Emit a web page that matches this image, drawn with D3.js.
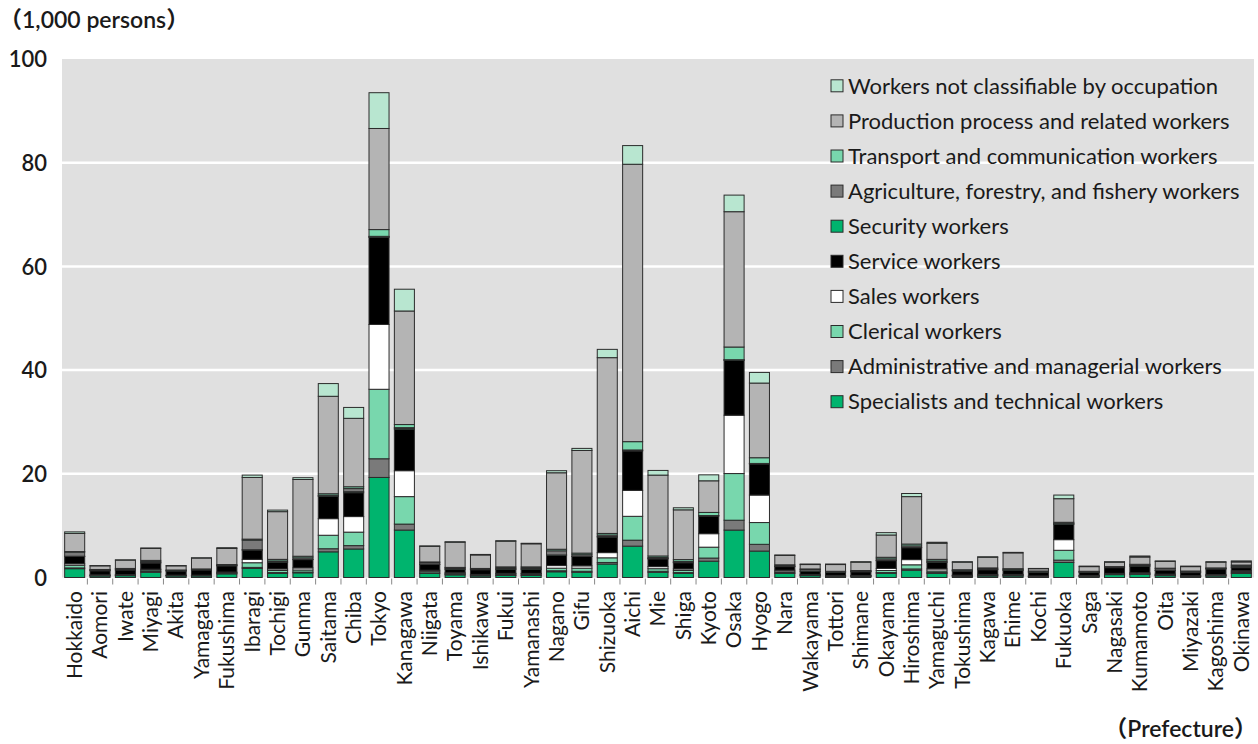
<!DOCTYPE html>
<html>
<head>
<meta charset="utf-8">
<script src="https://cdn.jsdelivr.net/npm/d3@7"></script>
<style>
  body { margin: 0; background: #fff; }
  svg { display: block; }
  text { font-family: Lato, "Noto Sans", "Noto Sans CJK JP", sans-serif; fill: #1a1a1a; }
</style>
</head>
<body>
<svg id="chart" width="1258" height="744"></svg>
<script>
// Prefectures in the order they appear along the x axis
const prefectures = ["Hokkaido","Aomori","Iwate","Miyagi","Akita","Yamagata","Fukushima","Ibaragi","Tochigi","Gunma",
  "Saitama","Chiba","Tokyo","Kanagawa","Niigata","Toyama","Ishikawa","Fukui","Yamanashi","Nagano","Gifu","Shizuoka",
  "Aichi","Mie","Shiga","Kyoto","Osaka","Hyogo","Nara","Wakayama","Tottori","Shimane","Okayama","Hiroshima","Yamaguchi",
  "Tokushima","Kagawa","Ehime","Kochi","Fukuoka","Saga","Nagasaki","Kumamoto","Oita","Miyazaki","Kagoshima","Okinawa"];

// Occupation groups, bottom of the stack first
const occupations = [
  "Specialists and technical workers",
  "Administrative and managerial workers",
  "Clerical workers",
  "Sales workers",
  "Service workers",
  "Security workers",
  "Agriculture, forestry, and fishery workers",
  "Transport and communication workers",
  "Production process and related workers",
  "Workers not classifiable by occupation"
];

// Workers per prefecture (1,000 persons), one array per occupation group
const specialists    = [1.7,0.3,0.35,1.0,0.3,0.3,0.7,1.75,0.8,0.9,4.95,5.5,19.3,9.15,0.8,0.5,0.3,0.4,0.4,1.1,1.0,2.6,6.05,1.0,0.8,3.15,9.15,5.1,0.8,0.35,0.2,0.2,0.8,1.4,0.8,0.25,0.3,0.3,0.15,2.9,0.2,0.55,0.6,0.35,0.2,0.3,0.8];
const administrative = [0.15,0.05,0.05,0.15,0.05,0.05,0.1,0.2,0.15,0.15,0.6,0.65,3.6,1.15,0.1,0.1,0.05,0.1,0.1,0.2,0.2,0.3,1.15,0.2,0.15,0.6,1.9,1.3,0.1,0.05,0.05,0.05,0.15,0.25,0.15,0.05,0.05,0.05,0.05,0.45,0.05,0.05,0.05,0.05,0.05,0.05,0.1];
const clerical       = [0.5,0.1,0.1,0.3,0.05,0.05,0.15,0.9,0.4,0.4,2.6,2.6,13.4,5.3,0.3,0.2,0.15,0.2,0.2,0.5,0.6,0.9,4.6,0.5,0.4,2.1,9.0,4.2,0.2,0.1,0.1,0.1,0.4,0.8,0.3,0.1,0.15,0.15,0.05,1.9,0.1,0.1,0.15,0.15,0.05,0.1,0.2];
const sales          = [0.3,0.05,0.05,0.15,0.05,0.05,0.1,0.65,0.3,0.4,3.2,3.0,12.5,5.0,0.2,0.1,0.1,0.1,0.1,0.5,0.45,1.0,5.0,0.4,0.3,2.6,11.25,5.3,0.3,0.1,0.05,0.05,0.4,1.0,0.4,0.05,0.1,0.1,0.05,2.05,0.05,0.1,0.1,0.1,0.05,0.1,0.2];
const service        = [1.4,0.8,0.9,1.2,0.8,1.0,1.2,1.8,1.3,1.6,4.3,4.6,16.8,8.0,1.1,0.7,0.9,0.8,0.8,2.0,1.8,3.0,7.6,1.5,1.2,3.4,10.6,6.0,0.7,0.6,0.6,0.7,1.5,2.3,1.3,0.8,0.9,0.8,0.7,2.95,0.6,1.1,1.3,0.7,0.6,1.1,0.6];
const security       = [0.05,0.05,0.05,0.1,0.05,0.05,0.05,0.05,0.05,0.05,0.1,0.2,0.1,0.2,0.05,0.05,0.05,0.05,0.05,0.05,0.05,0.1,0.1,0.05,0.05,0.05,0.05,0.05,0.05,0.05,0.05,0.05,0.05,0.05,0.05,0.05,0.05,0.05,0.05,0.1,0.05,0.05,0.05,0.05,0.05,0.05,0.1];
const agriculture    = [0.8,0.15,0.2,0.2,0.1,0.1,0.1,1.85,0.2,0.3,0.1,0.6,0.1,0.1,0.3,0.2,0.1,0.2,0.2,0.8,0.3,0.3,0.1,0.2,0.2,0.05,0.05,0.05,0.1,0.3,0.1,0.1,0.3,0.3,0.2,0.1,0.15,0.15,0.15,0.1,0.1,0.1,0.2,0.3,0.2,0.1,0.2];
const transport      = [0.1,0.05,0.05,0.2,0.05,0.05,0.1,0.2,0.3,0.3,0.3,0.35,1.3,0.6,0.15,0.1,0.1,0.2,0.2,0.3,0.3,0.3,1.6,0.3,0.35,0.6,2.45,1.1,0.2,0.1,0.05,0.1,0.3,0.35,0.3,0.1,0.15,0.1,0.05,0.2,0.05,0.05,0.1,0.1,0.05,0.05,0.2];
const production     = [3.5,0.7,1.6,2.3,0.8,2.1,3.1,11.9,9.2,14.8,18.8,13.2,19.5,21.9,3.0,4.85,2.6,4.95,4.45,14.75,19.8,33.9,53.5,15.6,9.6,6.1,26.1,14.4,1.8,0.85,1.3,1.6,4.3,9.15,3.1,1.45,2.05,3.05,0.45,4.55,0.9,0.85,1.4,1.3,0.85,1.1,0.6];
const unclassified   = [0.3,0.05,0.05,0.1,0.05,0.05,0.15,0.45,0.3,0.35,2.45,2.1,6.9,4.2,0.1,0.1,0.1,0.1,0.1,0.4,0.4,1.6,3.6,0.9,0.4,1.15,3.2,2.05,0.1,0.1,0.1,0.1,0.45,0.6,0.2,0.1,0.1,0.1,0.05,0.7,0.1,0.1,0.2,0.1,0.1,0.1,0.2];

const seriesValues = [specialists, administrative, clerical, sales, service, security, agriculture, transport, production, unclassified];
const fills = ["#00b46e","#7a7a7a","#78d7ad","#ffffff","#000000","#00b46e","#7a7a7a","#78d7ad","#b4b4b4","#b8e6d0"];
const yTicks = [0, 20, 40, 60, 80, 100];

// Table of rows for d3.stack
const rows = prefectures.map((p, i) => {
  const r = { prefecture: p };
  occupations.forEach((k, j) => { r[k] = seriesValues[j][i]; });
  return r;
});

const svg = d3.select("#chart");
const plot = { left: 62, right: 1254, top: 59, bottom: 577.5 };

const x = d3.scaleBand().domain(prefectures).range([plot.left, plot.right]).paddingInner(0.21).paddingOuter(0.105);
const y = d3.scaleLinear().domain([0, 100]).range([plot.bottom, plot.top]);
const color = d3.scaleOrdinal().domain(occupations).range(fills);

// Plot background and gridlines
svg.append("rect").attr("x", plot.left).attr("y", plot.top)
  .attr("width", plot.right - plot.left).attr("height", plot.bottom - plot.top).attr("fill", "#e0e0e0");
svg.append("g").selectAll("line").data(yTicks.filter(t => t > 0 && t < 100)).join("line")
  .attr("x1", plot.left).attr("x2", plot.right)
  .attr("y1", d => y(d)).attr("y2", d => y(d))
  .attr("stroke", "#fff").attr("stroke-width", 2.5);

// Y axis labels
const yAxis = d3.axisLeft(y).tickValues(yTicks).tickSize(0).tickPadding(0);
const gy = svg.append("g").attr("transform", "translate(47,0)").call(yAxis);
gy.select(".domain").remove();
gy.selectAll("text").attr("font-size", 22).attr("font-weight", 600).attr("dy", "0.35em")
  .style("font-family", "Lato, 'Noto Sans', sans-serif").attr("fill", "#1a1a1a");

// Stacked bars
const stacked = d3.stack().keys(occupations)(rows);
const layers = svg.append("g").selectAll("g").data(stacked).join("g")
  .attr("fill", d => color(d.key));
layers.selectAll("rect").data(d => d).join("rect")
  .attr("x", d => x(d.data.prefecture))
  .attr("width", x.bandwidth())
  .attr("y", d => y(d[1]))
  .attr("height", d => y(d[0]) - y(d[1]))
  .attr("stroke", "#2b2b2b").attr("stroke-width", 1);

// X axis: ticks between bands, rotated names
const half = x.step() * x.paddingInner() / 2;
const boundaries = prefectures.slice(1).map(p => x(p) - half);
svg.append("g").selectAll("line").data(boundaries).join("line")
  .attr("x1", d => d).attr("x2", d => d).attr("y1", plot.bottom + 1).attr("y2", plot.bottom + 7)
  .attr("stroke", "#888").attr("stroke-width", 1);

svg.append("g").selectAll("text").data(prefectures).join("text")
  .attr("transform", d => `translate(${x(d) + x.bandwidth() / 2},591) rotate(-90)`)
  .attr("text-anchor", "end").attr("dy", "0.35em")
  .attr("font-size", 21)
  .text(d => d);

// Axis titles
svg.append("text").attr("x", -1).attr("y", 28).attr("font-size", 23).attr("font-weight", 600)
  .text("（1,000 persons）");
svg.append("text").attr("x", 1257).attr("y", 737).attr("text-anchor", "end")
  .attr("font-size", 23).attr("font-weight", 600).text("（Prefecture）");

// Legend, top of the stack first
const legendKeys = occupations.slice().reverse();
const legend = svg.append("g").selectAll("g").data(legendKeys).join("g")
  .attr("transform", (d, i) => `translate(831,${85.8 + i * 35.1})`);
legend.append("rect").attr("x", 0).attr("y", -6).attr("width", 12).attr("height", 12)
  .attr("fill", d => color(d)).attr("stroke", "#2b2b2b").attr("stroke-width", 1);
legend.append("text").attr("x", 17).attr("dy", "0.35em").attr("font-size", 22).text(d => d);
</script>
</body>
</html>
